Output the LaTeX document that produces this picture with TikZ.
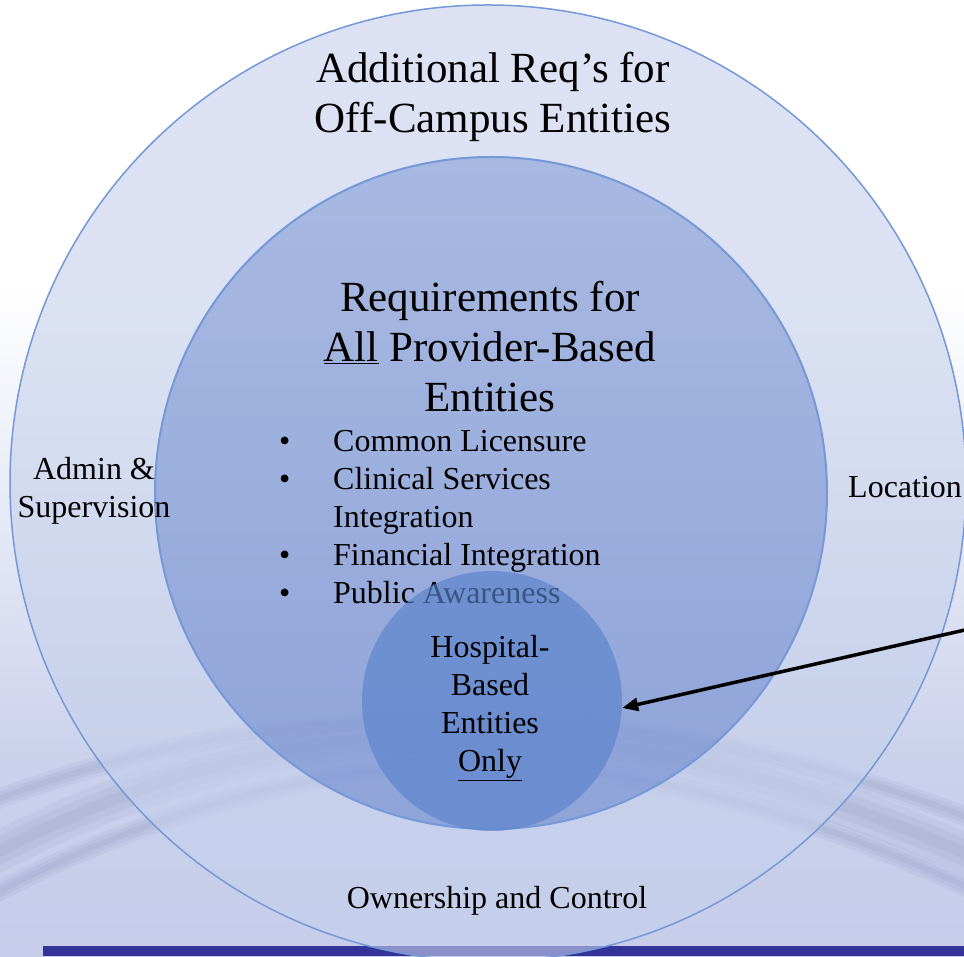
\documentclass[tikz,border=0pt]{standalone}
\usepackage{fontspec}
\setmainfont{Liberation Serif}
\usetikzlibrary{arrows.meta}
\definecolor{ringline}{HTML}{7598D8}
\definecolor{outerfill}{HTML}{C5D0EB}
\definecolor{midfill}{HTML}{849DD5}
\definecolor{midfilldark}{HTML}{6A87CE}
\definecolor{hospfill}{HTML}{5A82CB}
\definecolor{bgmid}{HTML}{CBD1EC}
\definecolor{bgbot}{HTML}{B8C0E2}
\definecolor{wavecol}{HTML}{5F6898}
\definecolor{stripcol}{HTML}{333399}
\pgfdeclareverticalshading{bgshade}{100bp}{color(0bp)=(bgbot); color(35bp)=(bgmid); color(60bp)=(white); color(100bp)=(white)}

\begin{document}
\begin{tikzpicture}[x=1pt,y=1pt]
      \tikzstyle{every node}+=[inner sep=0pt]
      \tikzstyle{ring}=[circle,draw=ringline,fill opacity=0.6]
      \tikzstyle{bigtext}=[font=\fontsize{43}{50}\selectfont,align=center]
      \tikzstyle{smalltext}=[font=\fontsize{32}{38}\selectfont,align=center]
      \tikzstyle{wave}=[draw=wavecol,opacity=0.07,line cap=round]
      \useasboundingbox (0,0) rectangle (964,956);
      \clip (0,0) rectangle (964,956);
      \shade [shading=bgshade] (0,0) rectangle (964,956);
      \foreach \w in {40,26,12} {
        \draw [wave,line width=\w] (-20,95) .. controls (300,265) and (600,265) .. (990,92);
        \draw [wave,line width=\w/2] (-20,55) .. controls (320,235) and (620,235) .. (990,58);
        \draw [wave,line width=\w/2] (-20,150) .. controls (300,275) and (650,265) .. (990,130);
      }
      \fill [stripcol] (43,0) rectangle (964,10);
      \node [ring,fill=outerfill,line width=1.5pt,minimum size=956] (outer) at (488,473) {};
      \node [ring,top color=midfill,bottom color=midfilldark,line width=2pt,minimum size=672] (mid) at (491,463) {};
      \node [bigtext,anchor=north] (offcampus) at (493,904) {Additional Req’s for\\Off-Campus Entities};
      \node [bigtext,anchor=north] (allreq) at (490,675) {Requirements for\\\underline{All} Provider-Based\\Entities};
      \node [font=\fontsize{32}{38}\selectfont,anchor=north west] (reqlist) at (279,531) {%
        \begin{tabular}{@{}p{54pt}@{}l@{}}
          \textbullet & Common Licensure\\
          \textbullet & Clinical Services\\
                      & Integration\\
          \textbullet & Financial Integration\\
          \textbullet & Public Awareness
        \end{tabular}};
      \node [smalltext,anchor=north] (admin) at (94,499) {Admin \&\\Supervision};
      \node [smalltext,anchor=base west] (location) at (848,458) {Location};
      \node [smalltext,anchor=base] (ownership) at (497,47) {Ownership and Control};
      \node [circle,fill=hospfill,fill opacity=0.65,minimum size=260] (hosp) at (492,255) {};
      \node [smalltext,anchor=north] (hosptext) at (490,321) {Hospital-\\Based\\Entities\\\underline{Only}};
      \coordinate (arrowtail) at (1000,334);
      \draw [black,line width=3.5pt,-{Triangle[length=16pt,width=13pt]}] (arrowtail) -- ([yshift=-7]hosp.east);
    \end{tikzpicture}
\end{document}
